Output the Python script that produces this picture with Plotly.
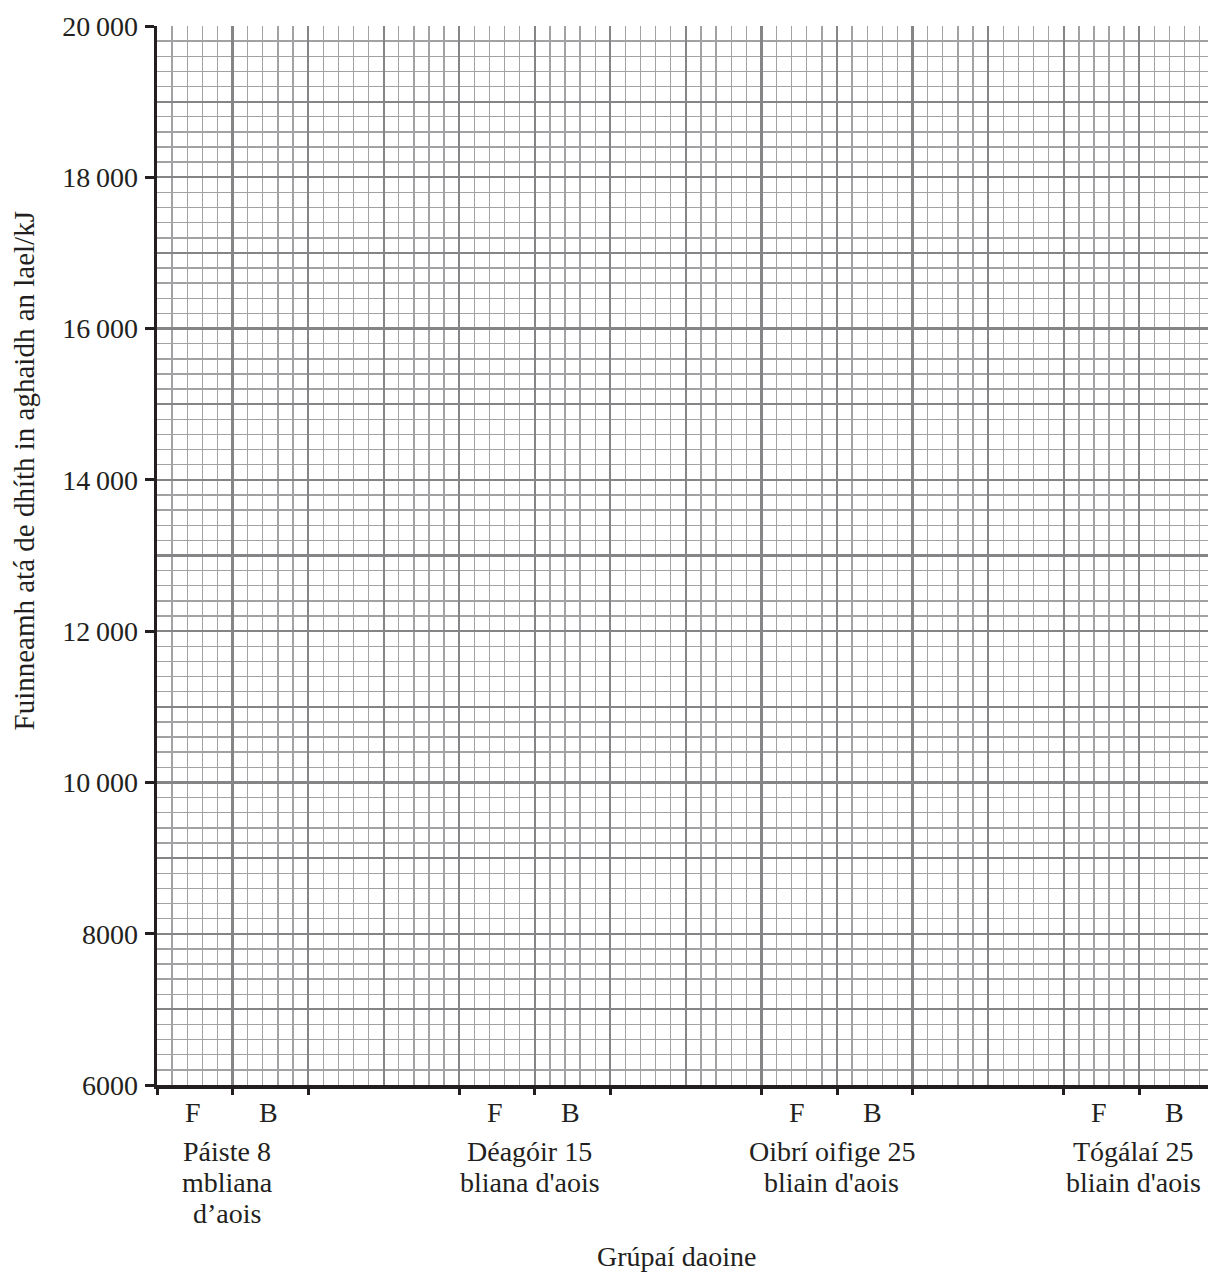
import plotly.graph_objects as go

# ---- data ----
groups = [
    ["Páiste 8", "mbliana", "d’aois"],
    ["Déagóir 15", "bliana d'aois"],
    ["Oibrí oifige 25", "bliain d'aois"],
    ["Tógálaí 25", "bliain d'aois"],
]
sub_labels = ["F", "B"]
y_tick_vals = [6000, 8000, 10000, 12000, 14000, 16000, 18000, 20000]
y_tick_text = ["6000", "8000", "10\u2009000", "12\u2009000", "14\u2009000",
               "16\u2009000", "18\u2009000", "20\u2009000"]
y_title = "Fuinneamh atá de dhíth in aghaidh an lael/kJ"
x_title = "Grúpaí daoine"

# ---- layout constants ----
W, H = 1208, 1273
L, R, T, B = 157, 0, 26, 188
plot_h = H - T - B
FONT = "Liberation Serif"
INK = "#231f20"
FS = 28
X_MAX = 13.91
GROUP_STEP = 4


def py(pix):
    """pixel y -> paper y"""
    return (H - B - pix) / plot_h


fig = go.Figure()
# invisible traces to anchor both subplots
fig.add_trace(go.Scatter(x=[None], y=[None], xaxis="x", yaxis="y",
                         showlegend=False, hoverinfo="skip"))
fig.add_trace(go.Scatter(x=[None], y=[None], xaxis="x2", yaxis="y2",
                         showlegend=False, hoverinfo="skip"))

major_grid = dict(showgrid=True, gridcolor="#858587", gridwidth=2.2)
minor_x = dict(dtick=0.2, showgrid=True, gridcolor="#a2a2a4", gridwidth=1.4, ticks="")
minor_y = dict(dtick=200, showgrid=True, gridcolor="#a2a2a4", gridwidth=1.4, ticks="")

x_ticks = []
for g in range(len(groups)):
    for k in range(3):
        v = g * GROUP_STEP + k
        if v <= X_MAX:
            x_ticks.append(v)

fig.update_layout(
    width=W, height=H,
    margin=dict(l=L, r=R, t=T, b=B, pad=0),
    paper_bgcolor="white", plot_bgcolor="white",
    showlegend=False,
    font=dict(family=FONT, size=FS, color=INK),
    xaxis=dict(range=[0, X_MAX], dtick=1, tick0=0, showticklabels=False,
               ticks="", showline=False, zeroline=False, minor=minor_x,
               fixedrange=True, **major_grid),
    yaxis=dict(range=[6000, 20000], dtick=1000, tick0=0, showticklabels=False,
               ticks="", showline=False, zeroline=False, minor=minor_y,
               fixedrange=True, **major_grid),
    xaxis2=dict(range=[0, X_MAX], overlaying="x", anchor="y2", side="bottom",
                tickmode="array", tickvals=x_ticks, showticklabels=False,
                ticks="outside", ticklen=6, tickwidth=3, tickcolor=INK,
                showline=True, linecolor=INK, linewidth=3.5,
                showgrid=False, zeroline=False, fixedrange=True),
    yaxis2=dict(range=[6000, 20000], overlaying="y", anchor="x2", side="left",
                tickmode="array", tickvals=y_tick_vals, ticktext=y_tick_text,
                ticks="outside", ticklen=9, tickwidth=3, tickcolor=INK,
                ticklabelstandoff=1,
                tickfont=dict(family=FONT, size=FS, color=INK),
                showline=True, linecolor=INK, linewidth=3.5,
                showgrid=False, zeroline=False, fixedrange=True),
)

ann = []
# F / B labels
for g in range(len(groups)):
    for j, s in enumerate(sub_labels):
        ann.append(dict(x=g * GROUP_STEP + j + 0.47, xref="x", y=py(1095), yref="paper",
                        text=s, showarrow=False, xanchor="center", yanchor="top",
                        font=dict(family=FONT, size=FS, color=INK)))
# group labels, one annotation per line
line_tops = [1134, 1165, 1196]
for g, lines in enumerate(groups):
    cx = g * GROUP_STEP + 0.93
    for i, txt in enumerate(lines):
        ann.append(dict(x=cx, xref="x", y=py(line_tops[i]), yref="paper",
                        text=txt, showarrow=False, xanchor="center", yanchor="top",
                        font=dict(family=FONT, size=FS, color=INK)))
# axis titles
ann.append(dict(x=(676 - L) / (W - L - R), xref="paper", y=py(1239), yref="paper",
                text=x_title, showarrow=False, xanchor="center", yanchor="top",
                font=dict(family=FONT, size=FS, color=INK)))
ann.append(dict(x=(23.5 - L) / (W - L - R), xref="paper", y=py(471), yref="paper",
                text=y_title, textangle=-90, showarrow=False,
                xanchor="center", yanchor="middle",
                font=dict(family=FONT, size=29, color=INK)))
fig.update_layout(annotations=ann)

fig.write_html(
    "out.html",
    config={"displayModeBar": False, "staticPlot": True},
    post_script="document.body.style.margin='0';document.body.style.overflow='hidden';",
)
